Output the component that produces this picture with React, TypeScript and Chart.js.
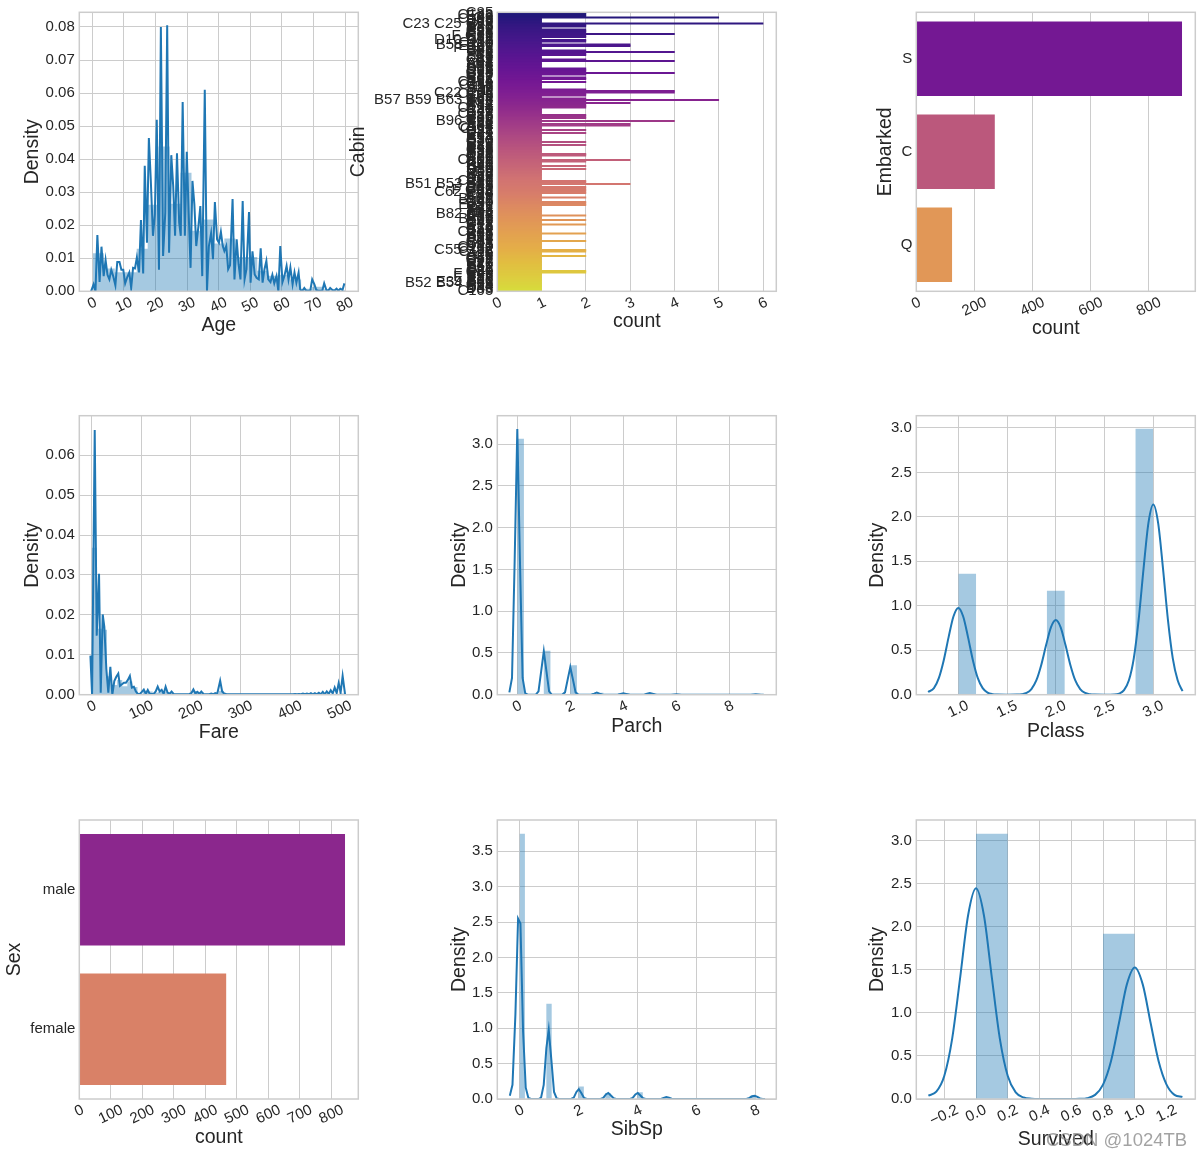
import React, { useEffect, useRef } from "react";
import { Chart, registerables } from "chart.js";

Chart.register(...registerables);

const W = 1202;
const H = 1158;
const FONT = '"Liberation Sans", Arial, Helvetica, sans-serif';
const TEXT = "#262626";
const GRID = "#cccccc";
const BLUE = "#1f77b4";
const HIST_FILL = "rgba(31,119,180,0.4)";
const TICK_SIZE = 15;
const TITLE_SIZE = 19.5;
const ROT = 25;
const X_LABEL_PAD = 2.5;

// ---------------- Age ----------------
const ageXTicks = [0, 10, 20, 30, 40, 50, 60, 70, 80];
const ageXLabels = ["0", "10", "20", "30", "40", "50", "60", "70", "80"];
const ageYTicks = [0, 0.01, 0.02, 0.03, 0.04, 0.05, 0.06, 0.07, 0.08];
const ageYLabels = ["0.00", "0.01", "0.02", "0.03", "0.04", "0.05", "0.06", "0.07", "0.08"];
const ageBinEdges = [0.17, 3.64, 7.11, 10.58, 14.05, 17.52, 20.99, 24.46, 27.93, 31.4, 34.87, 38.34, 41.81, 45.28, 48.75, 52.22, 55.69, 59.16, 62.63, 66.1, 69.57, 73.04, 76.51, 79.98];
const ageBinHeights = [0.0115, 0.0069, 0.0058, 0.0058, 0.0129, 0.0262, 0.0438, 0.0265, 0.0359, 0.0183, 0.0217, 0.0145, 0.016, 0.0104, 0.0104, 0.0062, 0.0047, 0.005, 0.0036, 0.0008, 0.0014, 0.0006, 0.0003];
const ageKde = [
  [-0.4, 0], [0.4, 0.0021], [1.0, 0], [1.6, 0.017], [2.3, 0.0028], [2.9, 0.0135], [3.6, 0.0046], [4.2, 0.0095], [4.8, 0.005], [5.4, 0.0036],
  [6.0, 0.0065], [6.6, 0.0046], [7.3, 0.0018], [7.9, 0.0089], [8.6, 0.0089], [9.2, 0.0065], [9.8, 0.0065], [10.4, 0.0024], [11.1, 0.0044], [11.7, 0.0057],
  [12.3, 0.001], [12.9, 0.0071], [13.5, 0.0069], [14.1, 0.0102], [14.8, 0.0057], [15.4, 0.0216], [16.1, 0.0054], [16.6, 0.038], [17.3, 0.0147], [17.9, 0.0464],
  [18.5, 0.0339], [19.2, 0.0168], [19.8, 0.0233], [20.4, 0.0519], [21.1, 0.0065], [21.7, 0.08], [22.4, 0.0107], [23.1, 0.0238], [23.7, 0.0805], [24.3, 0.0117],
  [25.0, 0.0412], [25.6, 0.0319], [26.2, 0.0168], [26.8, 0.0418], [27.5, 0.0208], [28.0, 0.0168], [28.6, 0.0573], [29.3, 0.0168], [29.9, 0.0422], [30.5, 0.0238],
  [31.1, 0.0071], [31.7, 0.0334], [32.3, 0.0264], [32.9, 0.0137], [33.6, 0.0198], [34.2, 0.0258], [34.8, 0.0046], [35.6, 0.061], [36.3, 0], [36.9, 0.0137],
  [37.6, 0.0176], [38.2, 0.0097], [38.8, 0.027], [39.5, 0.0157], [40.1, 0.0147], [40.7, 0.018], [41.3, 0.0137], [41.8, 0.0122], [42.4, 0.0137], [43.0, 0.0067],
  [43.6, 0.0079], [44.4, 0.0279], [45.0, 0.0036], [45.7, 0.0157], [46.3, 0.0082], [46.9, 0.0036], [47.6, 0.0273], [48.2, 0.0036], [48.8, 0.0067], [49.6, 0.024],
  [50.1, 0.0026], [50.7, 0.0121], [51.4, 0.0051], [52.0, 0.0041], [52.7, 0.0036], [53.3, 0.013], [53.9, 0.0026], [54.5, 0.0067], [55.1, 0.0092], [55.7, 0.0036],
  [56.4, 0.0028], [57.0, 0.005], [57.6, 0.0024], [58.3, 0.0046], [58.9, 0], [59.5, 0.0137], [60.2, 0.0028], [60.8, 0.0046], [61.5, 0.0077], [62.1, 0.0036],
  [62.7, 0.0072], [63.4, 0.0021], [64.0, 0.0057], [64.6, 0.0026], [65.3, 0.0057], [65.8, 0.0006], [66.4, 0], [67.1, 0.001], [67.7, 0.0002], [68.3, 0.0002],
  [69.0, 0.0002], [69.6, 0.0036], [70.3, 0.0021], [70.9, 0.0004], [71.5, 0.0002], [72.2, 0.0002], [72.8, 0.0002], [73.4, 0.0024], [74.1, 0.0004], [74.7, 0.0002],
  [75.3, 0.001], [76.0, 0.0004], [76.6, 0.0002], [77.3, 0.0008], [77.9, 0.0002], [78.5, 0.0008], [79.2, 0.0004], [79.8, 0.0024],
];

// ---------------- Fare ----------------
const fareXTicks = [0, 100, 200, 300, 400, 500];
const fareXLabels = ["0", "100", "200", "300", "400", "500"];
const fareYTicks = [0, 0.01, 0.02, 0.03, 0.04, 0.05, 0.06];
const fareYLabels = ["0.00", "0.01", "0.02", "0.03", "0.04", "0.05", "0.06"];
const fareBinStart = 0;
const fareBinWidth = 10.2466;
const fareBinHeights = [
  0.0368, 0.0165, 0.0163, 0.0046, 0.0024, 0.0037, 0.0021, 0.0033, 0.0019, 0.0002,
  0.001, 0.0008, 0.0005, 0.0007, 0.0008, 0.0005, 0.0002, 0, 0, 0,
  0.0009, 0.0007, 0.0001, 0, 0.0003, 0.001, 0, 0, 0, 0,
  0, 0, 0, 0, 0, 0, 0, 0, 0, 0,
  0, 0, 0, 0, 0, 0, 0, 0, 0, 0.0003,
];
const fareKde = [
  [-2.7, 0.0098], [0.7, 0], [6.0, 0.0663], [10.0, 0.0148], [14.7, 0.0303], [18.1, 0.0005], [22.1, 0.0201], [25.4, 0.017], [29.4, 0.0065], [33.4, 0.0005],
  [37.5, 0.007], [41.5, 0], [45.5, 0.0034], [49.5, 0.0045], [53.5, 0.0053], [56.9, 0.0022], [60.9, 0.0026], [64.9, 0.003], [68.9, 0.003], [72.9, 0.0037],
  [76.9, 0.0047], [80.9, 0.0018], [85, 0.002], [89, 0.0008], [93, 0.0002], [97, 0.0002], [101, 0.0007], [105, 0.0013], [109, 0.0002], [113, 0.0012],
  [117, 0.0002], [121, 0.0002], [125, 0.0002], [129, 0.0008], [133, 0.002], [137, 0.0008], [141, 0.0012], [145, 0.0002], [149, 0.002], [153, 0.0005],
  [157, 0.0002], [161, 0.0008], [165, 0.0002], [170, 0.0001], [180, 0.0001], [190, 0.0001], [197, 0.0002], [201, 0.0004], [205, 0.0013], [209, 0.0003],
  [213, 0.0007], [217, 0.0002], [221, 0.0008], [225, 0.0002], [230, 0.0001], [237, 0.0001], [241, 0.0003], [245, 0.0001], [249, 0.0004], [253, 0.0002],
  [259, 0.0035], [263, 0.0008], [267, 0.0003], [272, 0.0001], [300, 0.0001], [350, 0.0001], [400, 0.0001], [406, 0.0001], [410, 0.0002], [414, 0.0001],
  [418, 0.0002], [422, 0.0001], [426, 0.0003], [430, 0.0001], [434, 0.0003], [438, 0.0001], [442, 0.0004], [446, 0.0001], [450, 0.0004], [454, 0.0001],
  [458, 0.0005], [462, 0.0001], [466, 0.0007], [470, 0.0001], [474, 0.0008], [478, 0.0002], [482, 0.0011], [486, 0.0003], [490, 0.0018], [494, 0.0004],
  [498, 0.0029], [502, 0.0006], [506, 0.0047], [511, 0],
];

// ---------------- Parch ----------------
const parchXTicks = [0, 2, 4, 6, 8];
const parchXLabels = ["0", "2", "4", "6", "8"];
const halfYTicks = [0, 0.5, 1, 1.5, 2, 2.5, 3];
const halfYLabels = ["0.0", "0.5", "1.0", "1.5", "2.0", "2.5", "3.0"];
const parchBarLeft = [0, 1, 2, 3, 4, 5, 6, 8.75];
const parchBarHeight = [3.063, 0.527, 0.351, 0.024, 0.018, 0.018, 0.006, 0.006];
const parchBarWidth = 0.25;
const parchKde = [
  [-0.3, 0.028], [-0.2, 0.2], [-0.1, 1.6], [0, 3.18], [0.1, 1.6], [0.2, 0.2], [0.3, 0.015], [0.4, 0],
  [0.7, 0.002], [0.8, 0.04], [0.9, 0.28], [1.0, 0.52], [1.1, 0.28], [1.2, 0.04], [1.3, 0.002], [1.4, 0],
  [1.7, 0.001], [1.8, 0.028], [1.9, 0.18], [2.0, 0.33], [2.1, 0.18], [2.2, 0.028], [2.3, 0.001], [2.4, 0],
  [2.8, 0.002], [2.9, 0.013], [3.0, 0.025], [3.1, 0.013], [3.2, 0.002], [3.3, 0],
  [3.8, 0.0015], [3.9, 0.01], [4.0, 0.018], [4.1, 0.01], [4.2, 0.0015], [4.3, 0],
  [4.8, 0.0017], [4.9, 0.011], [5.0, 0.02], [5.1, 0.011], [5.2, 0.0017], [5.3, 0],
  [5.8, 0.0005], [5.9, 0.003], [6.0, 0.006], [6.1, 0.003], [6.2, 0.0005], [6.3, 0],
  [8.7, 0], [8.8, 0.0005], [8.9, 0.003], [9.0, 0.006], [9.1, 0.003], [9.2, 0.0005], [9.3, 0],
];

// ---------------- Pclass ----------------
const pclassXTicks = [1, 1.5, 2, 2.5, 3];
const pclassXLabels = ["1.0", "1.5", "2.0", "2.5", "3.0"];
const pclassBarLeft = [1.0, 1.909, 2.818];
const pclassBarHeight = [1.36, 1.17, 2.99];
const pclassBarWidth = 0.1818;
const pclassKde = [
  [0.69, 0.03], [0.75, 0.074], [0.8, 0.186], [0.85, 0.385], [0.9, 0.645], [0.95, 0.879], [1.0, 0.975], [1.05, 0.879], [1.1, 0.645], [1.15, 0.385],
  [1.2, 0.186], [1.25, 0.074], [1.3, 0.024], [1.35, 0.006], [1.4, 0.001], [1.5, 0], [1.6, 0.001], [1.65, 0.005], [1.7, 0.02], [1.75, 0.064],
  [1.8, 0.16], [1.85, 0.332], [1.9, 0.555], [1.95, 0.758], [2.0, 0.84], [2.05, 0.758], [2.1, 0.555], [2.15, 0.332], [2.2, 0.16], [2.25, 0.064],
  [2.3, 0.02], [2.35, 0.005], [2.4, 0.001], [2.5, 0], [2.6, 0.002], [2.65, 0.013], [2.7, 0.052], [2.75, 0.162], [2.8, 0.409], [2.85, 0.845],
  [2.9, 1.415], [2.95, 1.93], [3.0, 2.14], [3.05, 1.93], [3.1, 1.415], [3.15, 0.845], [3.2, 0.409], [3.25, 0.162], [3.3, 0.04],
];

// ---------------- SibSp ----------------
const sibspXTicks = [0, 2, 4, 6, 8];
const sibspXLabels = ["0", "2", "4", "6", "8"];
const sibspYTicks = [0, 0.5, 1, 1.5, 2, 2.5, 3, 3.5];
const sibspYLabels = ["0.0", "0.5", "1.0", "1.5", "2.0", "2.5", "3.0", "3.5"];
const sibspBarLeft = [0, 0.909, 2.0, 2.909, 4.0, 4.909, 7.818];
const sibspBarHeight = [3.75, 1.347, 0.178, 0.085, 0.094, 0.025, 0.045];
const sibspBarWidth = 0.1818;
const sibspKde = [
  [-0.33, 0.047], [-0.24, 0.2], [-0.14, 1.2], [-0.05, 2.55], [0.03, 2.48], [0.12, 0.95], [0.21, 0.16], [0.3, 0.015], [0.39, 0],
  [0.65, 0], [0.73, 0.02], [0.82, 0.2], [0.91, 0.72], [0.99, 0.98], [1.08, 0.55], [1.17, 0.1], [1.26, 0.008], [1.35, 0],
  [1.75, 0], [1.84, 0.02], [1.93, 0.1], [2.01, 0.14], [2.1, 0.08], [2.19, 0.015], [2.28, 0],
  [2.75, 0], [2.84, 0.015], [2.93, 0.065], [3.01, 0.085], [3.1, 0.05], [3.19, 0.01], [3.28, 0],
  [3.75, 0], [3.84, 0.015], [3.93, 0.065], [4.01, 0.085], [4.1, 0.05], [4.19, 0.01], [4.28, 0],
  [4.8, 0], [4.89, 0.015], [4.98, 0.028], [5.07, 0.018], [5.16, 0.003], [5.25, 0],
  [7.7, 0], [7.8, 0.015], [7.89, 0.038], [7.98, 0.045], [8.07, 0.03], [8.16, 0.008], [8.25, 0.001], [8.33, 0],
];

// ---------------- Survived ----------------
const survivedXTicks = [-0.2, 0, 0.2, 0.4, 0.6, 0.8, 1.0, 1.2];
const survivedXLabels = ["\u22120.2", "0.0", "0.2", "0.4", "0.6", "0.8", "1.0", "1.2"];
const survivedBarLeft = [0, 0.8];
const survivedBarHeight = [3.085, 1.922];
const survivedBarWidth = 0.2;
const survivedKde = [
  [-0.3, 0.04], [-0.25, 0.085], [-0.2, 0.267], [-0.15, 0.703], [-0.1, 1.409], [-0.05, 2.134], [0, 2.45], [0.05, 2.134], [0.1, 1.409], [0.15, 0.703],
  [0.2, 0.267], [0.25, 0.077], [0.3, 0.017], [0.35, 0.003], [0.4, 0], [0.6, 0], [0.65, 0.002], [0.7, 0.01], [0.75, 0.048], [0.8, 0.167],
  [0.85, 0.439], [0.9, 0.88], [0.95, 1.333], [1.0, 1.53], [1.05, 1.333], [1.1, 0.88], [1.15, 0.439], [1.2, 0.167], [1.25, 0.048], [1.3, 0.025],
];

// ---------------- Embarked / Sex ----------------
const embarkedCats = ["S", "C", "Q"];
const embarkedCounts = [914, 270, 123];
const embarkedXTicks = [0, 200, 400, 600, 800];
const embarkedXLabels = ["0", "200", "400", "600", "800"];
const sexCats = ["male", "female"];
const sexCounts = [843, 466];
const sexXTicks = [0, 100, 200, 300, 400, 500, 600, 700, 800];
const sexXLabels = ["0", "100", "200", "300", "400", "500", "600", "700", "800"];

// ---------------- Cabin ----------------
const cabinCats = [
  "C85", "C123", "E46", "G6", "C103", "D56", "A6", "C23 C25 C27", "B78", "D33",
  "B30", "C52", "B28", "C83", "F33", "F G73", "E31", "A5", "D10 D12", "D26",
  "C110", "B58 B60", "E101", "F E69", "D47", "B86", "F2", "C2", "E33", "B19",
  "A7", "C49", "F4", "A32", "B4", "B80", "A31", "D36", "D15", "C93",
  "C78", "D35", "C87", "B77", "E67", "B94", "C125", "C99", "C118", "D7",
  "A19", "B49", "D", "C22 C26", "C106", "C65", "E36", "C54", "B57 B59 B63 B66", "C7",
  "E34", "C32", "B18", "C124", "C91", "E40", "T", "C128", "D37", "B35",
  "E50", "C82", "B96 B98", "E10", "E44", "A34", "C104", "C111", "C92", "E38",
  "D21", "E12", "E63", "A14", "B37", "C30", "D20", "B79", "E25", "D46",
  "B73", "C95", "B38", "B39", "B22", "C86", "C70", "A16", "C101", "C68",
  "A10", "E68", "B41", "A20", "D19", "D50", "D9", "A23", "B50", "A26",
  "D48", "E58", "C126", "B71", "B51 B53 B55", "D49", "B5", "B20", "F G63", "C62 C64",
  "E24", "C90", "C45", "E8", "B101", "D45", "C46", "D30", "E121", "D11",
  "E77", "F38", "B3", "D6", "B82 B84", "D17", "A36", "B102", "B69", "E49",
  "C47", "D28", "E17", "A24", "C50", "B42", "C148",
  "B45", "B36", "A21", "D34", "A9", "C31", "B61", "C53", "D43", "C130",
  "C132", "C55 C57", "C116", "F", "A29", "C6", "C28", "C51", "C97", "D22",
  "B10", "E45", "E52", "A11", "B11", "C80", "C89", "F E46", "B26", "F E57",
  "A18", "E60", "E39 E41", "B52 B54 B56", "C39", "B24", "D40", "D38", "C105",
];
const cabinCounts = [
  2, 2, 2, 5, 1, 1, 1, 6, 2, 2,
  1, 2, 2, 2, 4, 2, 2, 1, 2, 2,
  1, 3, 3, 1, 1, 2, 4, 2, 2, 1,
  1, 2, 4, 1, 1, 1, 1, 2, 2, 2,
  4, 2, 1, 2, 2, 1, 2, 1, 1, 1,
  1, 2, 4, 4, 2, 2, 1, 2, 5, 2,
  3, 2, 2, 2, 1, 1, 1, 1, 2, 2,
  2, 1, 4, 1, 3, 3, 1, 1, 2, 1,
  2, 1, 1, 1, 1, 1, 2, 1, 2, 1,
  1, 1, 1, 1, 2, 2, 1, 1, 3, 2,
  1, 1, 2, 1, 2, 1, 1, 1, 1, 1,
  1, 1, 2, 2, 3, 1, 2, 2, 2, 2,
  2, 1, 1, 2, 1, 1, 2, 2, 2, 1,
  1, 1, 1, 1, 1, 2, 1, 1, 2, 1,
  1, 2, 1, 1, 1, 1, 1,
  2, 1, 1, 1, 1, 2, 1, 1, 1, 1,
  1, 2, 2, 1, 1, 2, 1, 1, 1, 1,
  1, 1, 1, 1, 1, 2, 2, 1, 1, 1,
  1, 1, 1, 1, 1, 1, 1, 1, 1,
];
const cabinXTicks = [0, 1, 2, 3, 4, 5, 6];
const cabinXLabels = ["0", "1", "2", "3", "4", "5", "6"];

// ---------------- palette (plasma, desaturated like seaborn) ----------------
const PLASMA = ["#0d0887", "#2a0593", "#41049d", "#5601a4", "#6a00a8", "#7e03a8", "#8f0da4", "#a11b9b", "#b12a90", "#bf3984", "#cc4778", "#d6556d", "#e16462", "#e97158", "#f2844b", "#f89540", "#fca636", "#feb72d", "#fcce25", "#f7e225", "#f0f921"];
function hexRgb(h: string) {
  return [parseInt(h.slice(1, 3), 16), parseInt(h.slice(3, 5), 16), parseInt(h.slice(5, 7), 16)];
}
function plasmaAt(t: number) {
  const p = Math.max(0, Math.min(1, t)) * 20;
  const i = Math.min(19, Math.floor(p));
  const f = p - i;
  const a = hexRgb(PLASMA[i]);
  const b = hexRgb(PLASMA[i + 1]);
  return a.map((v, k) => v + (b[k] - v) * f);
}
function hue2rgb(p: number, q: number, t: number) {
  if (t < 0) t += 1;
  if (t > 1) t -= 1;
  if (t < 1 / 6) return p + (q - p) * 6 * t;
  if (t < 1 / 2) return q;
  if (t < 2 / 3) return p + (q - p) * (2 / 3 - t) * 6;
  return p;
}
function desat(rgb: number[], prop: number) {
  const r = rgb[0] / 255, g = rgb[1] / 255, b = rgb[2] / 255;
  const mx = Math.max(r, g, b), mn = Math.min(r, g, b);
  const l = (mx + mn) / 2;
  if (mx === mn) return `rgb(${rgb[0]},${rgb[1]},${rgb[2]})`;
  const d = mx - mn;
  let s = l > 0.5 ? d / (2 - mx - mn) : d / (mx + mn);
  let h;
  if (mx === r) h = ((g - b) / d + (g < b ? 6 : 0)) / 6;
  else if (mx === g) h = ((b - r) / d + 2) / 6;
  else h = ((r - g) / d + 4) / 6;
  s *= prop;
  const q = l < 0.5 ? l * (1 + s) : l + s - l * s;
  const p = 2 * l - q;
  const R = hue2rgb(p, q, h + 1 / 3), G = hue2rgb(p, q, h), B = hue2rgb(p, q, h - 1 / 3);
  return `rgb(${Math.round(R * 255)},${Math.round(G * 255)},${Math.round(B * 255)})`;
}
function palette(n: number) {
  const out: string[] = [];
  for (let i = 0; i < n; i++) out.push(desat(plasmaAt((i + 1) / (n + 1)), 0.75));
  return out;
}

// ---------------- helpers ----------------
type Geo = { l: number; t: number; r: number; b: number; yTitleX: number; xTitleY: number };
const COL = [[79.3, 358.3], [497.3, 776.3], [916.3, 1195.3]];
const ROW = [[12.3, 291.3], [415.7, 694.7], [820, 1099]];
function geo(c: number, r: number, yTitleX: number, xTitleY: number): Geo {
  return { l: COL[c][0], r: COL[c][1], t: ROW[r][0], b: ROW[r][1], yTitleX, xTitleY };
}
function frame(g: Geo) {
  const lh = TITLE_SIZE * 1.2;
  const axisLeft = g.yTitleX - lh / 2;
  const axisBottom = g.xTitleY + lh / 2;
  return {
    padding: { left: axisLeft, top: g.t, right: W - g.r, bottom: H - axisBottom },
    yW: g.l - axisLeft,
    xH: axisBottom - g.b,
  };
}
function fixSize(size: number, horiz: boolean) {
  return (s: any) => {
    if (horiz) s.height = size;
    else s.width = size;
    s.paddingLeft = 0;
    s.paddingRight = 0;
    s.paddingTop = 0;
    s.paddingBottom = 0;
  };
}
const titleOpt = (text: string) => ({ display: true, text, color: TEXT, font: { family: FONT, size: TITLE_SIZE }, padding: 0 });
const gridOpt = { color: GRID, lineWidth: 1, drawTicks: false };
const tickFont = { family: FONT, size: TICK_SIZE };

function xLinear(min: number, max: number, ticks: number[], xH: number, title: string) {
  return {
    type: "linear",
    position: "bottom",
    min,
    max,
    bounds: "data",
    afterBuildTicks: (s: any) => {
      s.ticks = ticks.map((v) => ({ value: v }));
    },
    afterFit: fixSize(xH, true),
    ticks: { display: false },
    grid: gridOpt,
    border: { display: false },
    title: titleOpt(title),
  };
}
function yLinear(max: number, ticks: number[], labels: string[], yW: number, title: string) {
  return {
    type: "linear",
    position: "left",
    min: 0,
    max,
    bounds: "data",
    afterBuildTicks: (s: any) => {
      s.ticks = ticks.map((v) => ({ value: v }));
    },
    afterFit: fixSize(yW, false),
    ticks: { color: TEXT, font: tickFont, padding: 4.5, autoSkip: false, callback: (_v: any, i: number) => labels[i] },
    grid: gridOpt,
    border: { display: false },
    title: titleOpt(title),
  };
}
function yCategory(yW: number, title: string) {
  return {
    type: "category",
    position: "left",
    offset: true,
    afterFit: fixSize(yW, false),
    ticks: { color: TEXT, font: tickFont, padding: 4, autoSkip: false },
    grid: { display: false, drawTicks: false },
    border: { display: false },
    title: titleOpt(title),
  };
}
function mplDecor(values: number[], labels: string[]) {
  return {
    id: "mplDecor",
    afterDraw(chart: any) {
      const { ctx, chartArea: ca } = chart;
      const xs = chart.scales.x;
      ctx.save();
      ctx.strokeStyle = GRID;
      ctx.lineWidth = 1.5;
      ctx.strokeRect(ca.left, ca.top, ca.right - ca.left, ca.bottom - ca.top);
      ctx.font = `${TICK_SIZE}px ${FONT}`;
      ctx.fillStyle = TEXT;
      ctx.textAlign = "center";
      ctx.textBaseline = "middle";
      const th = (ROT * Math.PI) / 180;
      values.forEach((v, i) => {
        const s = labels[i];
        const w = ctx.measureText(s).width;
        const bb = w * Math.sin(th) + TICK_SIZE * 1.15 * Math.cos(th);
        const x = xs.getPixelForValue(v);
        const y = ca.bottom + X_LABEL_PAD + bb / 2;
        ctx.save();
        ctx.translate(x, y);
        ctx.rotate(-th);
        ctx.fillText(s, 0, 0);
        ctx.restore();
      });
      ctx.restore();
    },
  };
}
function histContiguous(edges: number[], heights: number[]) {
  return edges.map((e, i) => ({ x: e, y: i < heights.length ? heights[i] : 0 }));
}
function histUniform(start: number, width: number, heights: number[]) {
  const pts = heights.map((h, i) => ({ x: start + i * width, y: h }));
  pts.push({ x: start + heights.length * width, y: 0 });
  return pts;
}
function histBars(lefts: number[], width: number, heights: number[]) {
  const pts: { x: number; y: number }[] = [];
  lefts.forEach((l, i) => {
    pts.push({ x: l, y: heights[i] });
    pts.push({ x: l + width, y: 0 });
  });
  return pts;
}
const baseOpts = (padding: any) => ({
  responsive: false,
  animation: false,
  devicePixelRatio: 1,
  events: [],
  layout: { padding },
  plugins: { legend: { display: false }, tooltip: { enabled: false } },
});

function distChart(o: {
  g: Geo; xMin: number; xMax: number; xTicks: number[]; xLabels: string[]; yMax: number; yTicks: number[]; yLabels: string[];
  xTitle: string; hist: { x: number; y: number }[]; kde: number[][]; smooth?: boolean;
}) {
  const f = frame(o.g);
  return {
    type: "line",
    data: {
      datasets: [
        {
          data: o.kde.map(([x, y]) => ({ x, y })),
          borderColor: BLUE,
          borderWidth: 2,
          pointRadius: 0,
          fill: false,
          tension: 0,
          cubicInterpolationMode: o.smooth ? "monotone" : "default",
        },
        {
          data: o.hist,
          stepped: true,
          fill: "origin",
          backgroundColor: HIST_FILL,
          borderColor: "rgba(0,0,0,0)",
          borderWidth: 0,
          pointRadius: 0,
        },
      ],
    },
    options: {
      ...baseOpts(f.padding),
      scales: {
        x: xLinear(o.xMin, o.xMax, o.xTicks, f.xH, o.xTitle),
        y: yLinear(o.yMax, o.yTicks, o.yLabels, f.yW, "Density"),
      },
    },
    plugins: [mplDecor(o.xTicks, o.xLabels)],
  };
}
function countChart(o: { g: Geo; cats: string[]; counts: number[]; xMax: number; xTicks: number[]; xLabels: string[]; yTitle: string; inflate: number }) {
  const f = frame(o.g);
  return {
    type: "bar",
    data: {
      labels: o.cats,
      datasets: [
        {
          data: o.counts,
          backgroundColor: palette(o.cats.length),
          borderWidth: 0,
          categoryPercentage: 1,
          barPercentage: 0.8,
          inflateAmount: o.inflate,
        },
      ],
    },
    options: {
      ...baseOpts(f.padding),
      indexAxis: "y",
      scales: {
        x: xLinear(0, o.xMax, o.xTicks, f.xH, "count"),
        y: yCategory(f.yW, o.yTitle),
      },
    },
    plugins: [mplDecor(o.xTicks, o.xLabels)],
  };
}

const makers: (() => any)[] = [
  () => distChart({ g: geo(0, 0, 32.5, 326), xMin: -4.12, xMax: 84.2, xTicks: ageXTicks, xLabels: ageXLabels, yMax: 0.08444, yTicks: ageYTicks, yLabels: ageYLabels, xTitle: "Age", hist: histContiguous(ageBinEdges, ageBinHeights), kde: ageKde }),
  () => countChart({ g: geo(1, 0, 359, 321.5), cats: cabinCats, counts: cabinCounts, xMax: 6.3, xTicks: cabinXTicks, xLabels: cabinXLabels, yTitle: "Cabin", inflate: 0.33 }),
  () => countChart({ g: geo(2, 0, 886, 329), cats: embarkedCats, counts: embarkedCounts, xMax: 959.7, xTicks: embarkedXTicks, xLabels: embarkedXLabels, yTitle: "Embarked", inflate: 0 }),
  () => distChart({ g: geo(0, 1, 32.5, 733), xMin: -25.1, xMax: 537.6, xTicks: fareXTicks, xLabels: fareXLabels, yMax: 0.0699, yTicks: fareYTicks, yLabels: fareYLabels, xTitle: "Fare", hist: histUniform(fareBinStart, fareBinWidth, fareBinHeights), kde: fareKde }),
  () => distChart({ g: geo(1, 1, 459.5, 726.5), xMin: -0.755, xMax: 9.774, xTicks: parchXTicks, xLabels: parchXLabels, yMax: 3.339, yTicks: halfYTicks, yLabels: halfYLabels, xTitle: "Parch", hist: histBars(parchBarLeft, parchBarWidth, parchBarHeight), kde: parchKde }),
  () => distChart({ g: geo(2, 1, 878, 731.5), xMin: 0.569, xMax: 3.431, xTicks: pclassXTicks, xLabels: pclassXLabels, yMax: 3.138, yTicks: halfYTicks, yLabels: halfYLabels, xTitle: "Pclass", hist: histBars(pclassBarLeft, pclassBarWidth, pclassBarHeight), kde: pclassKde, smooth: true }),
  () => countChart({ g: geo(0, 2, 14.5, 1137.5), cats: sexCats, counts: sexCounts, xMax: 885.15, xTicks: sexXTicks, xLabels: sexXLabels, yTitle: "Sex", inflate: 0 }),
  () => distChart({ g: geo(1, 2, 459.5, 1130), xMin: -0.755, xMax: 8.712, xTicks: sibspXTicks, xLabels: sibspXLabels, yMax: 3.943, yTicks: sibspYTicks, yLabels: sibspYLabels, xTitle: "SibSp", hist: histBars(sibspBarLeft, sibspBarWidth, sibspBarHeight), kde: sibspKde }),
  () => distChart({ g: geo(2, 2, 878, 1140), xMin: -0.376, xMax: 1.381, xTicks: survivedXTicks, xLabels: survivedXLabels, yMax: 3.244, yTicks: halfYTicks, yLabels: halfYLabels, xTitle: "Survived", hist: histBars(survivedBarLeft, survivedBarWidth, survivedBarHeight), kde: survivedKde, smooth: true }),
];

function ChartCanvas({ make }: { make: () => any }) {
  const ref = useRef<HTMLCanvasElement>(null);
  useEffect(() => {
    if (!ref.current) return;
    const chart = new Chart(ref.current, make());
    return () => chart.destroy();
  }, [make]);
  return <canvas ref={ref} width={W} height={H} style={{ position: "absolute", left: 0, top: 0, width: W, height: H }} />;
}

export default function App() {
  return (
    <div style={{ position: "absolute", left: 0, top: 0, width: W, height: H, background: "#ffffff", overflow: "hidden" }}>
      {makers.map((m, i) => (
        <ChartCanvas key={i} make={m} />
      ))}
      <div
        style={{
          position: "absolute",
          left: 1046,
          top: 1129,
          font: `18.5px ${FONT}`,
          lineHeight: "22px",
          color: "rgba(140,140,140,0.8)",
          whiteSpace: "nowrap",
          pointerEvents: "none",
        }}
      >
        CSDN @1024TB
      </div>
    </div>
  );
}
